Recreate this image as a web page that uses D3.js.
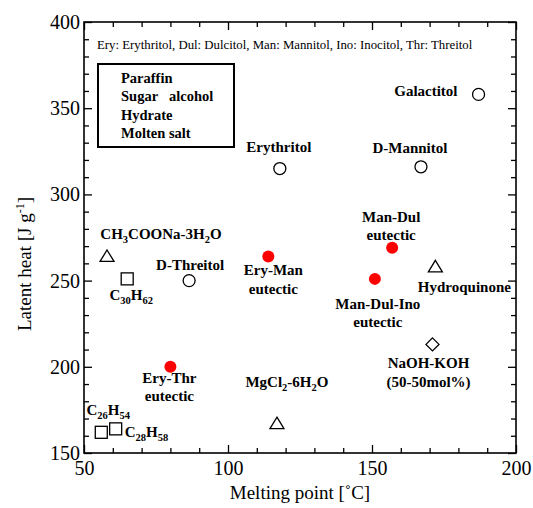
<!DOCTYPE html>
<html>
<head>
<meta charset="utf-8">
<script src="https://cdn.jsdelivr.net/npm/d3@7"></script>
<style>
  html, body { margin: 0; padding: 0; background: #fff; }
  svg { display: block; font-family: "Liberation Serif", "Times New Roman", serif; }
</style>
</head>
<body>
<svg id="chart" width="533" height="508"></svg>
<script>
// ---- data ----
const names = ["Galactitol", "Erythritol", "D-Mannitol", "D-Threitol", "Ery-Man eutectic",
  "Man-Dul eutectic", "Man-Dul-Ino eutectic", "Ery-Thr eutectic", "Hydroquinone",
  "NaOH-KOH (50-50mol%)", "MgCl2-6H2O", "CH3COONa-3H2O", "C30H62", "C26H54", "C28H58"];
const meltingPoints = [187, 118, 167, 86.5, 114, 157, 151, 80, 172, 171, 117, 58, 65, 56, 61];
const latentHeats  = [358, 315, 316, 250, 264, 269, 251, 200, 258, 213, 167, 264, 251, 162, 164];
const kinds = ["sugar", "sugar", "sugar", "sugar", "eutectic", "eutectic", "eutectic", "eutectic",
  "hydrate", "salt", "hydrate", "hydrate", "paraffin", "paraffin", "paraffin"];
const labelLines = [
  ["Galactitol"], ["Erythritol"], ["D-Mannitol"], ["D-Threitol"], ["Ery-Man", "eutectic"],
  ["Man-Dul", "eutectic"], ["Man-Dul-Ino", "eutectic"], ["Ery-Thr", "eutectic"], ["Hydroquinone"],
  ["NaOH-KOH", "(50-50mol%)"], ["MgCl_2-6H_2O"], ["CH_3COONa-3H_2O"], ["C_30H_62"], ["C_26H_54"], ["C_28H_58"]];
const legendItems = ["Paraffin", "Sugar\u00a0\u00a0\u00a0alcohol", "Hydrate", "Molten salt"];
const xTicks = [50, 100, 150, 200];
const yTicks = [150, 200, 250, 300, 350, 400];
const note = "Ery: Erythritol, Dul: Dulcitol, Man: Mannitol, Ino: Inocitol, Thr: Threitol";
const xTitle = "Melting point [\u02daC]";

// ---- layout (label offsets in px from marker) ----
const labelLayout = [
  {dx: -21, dy: -3, a: "end"}, {dx: -1, dy: -22, a: "middle"}, {dx: -11, dy: -19, a: "middle"},
  {dx: 1, dy: -16, a: "middle"}, {dx: 5, dy: 14, a: "middle"}, {dx: -1, dy: -31, a: "middle"},
  {dx: 3, dy: 25, a: "middle"}, {dx: -1, dy: 11, a: "middle"}, {dx: 29, dy: 20, a: "middle"},
  {dx: -4, dy: 19, a: "middle"}, {dx: 10, dy: -42, a: "middle"}, {dx: 54, dy: -22, a: "middle"},
  {dx: 4, dy: 16, a: "middle"}, {dx: 7, dy: -22, a: "middle"}, {dx: 9, dy: 3, a: "start"}];

const L = 84, R = 516, T = 22, B = 453;
const svg = d3.select("#chart");
const x = d3.scaleLinear().domain([50, 200]).range([L, R]);
const y = d3.scaleLinear().domain([150, 400]).range([B, T]);

const minorX = d3.range(50, 201, 10).filter(v => v % 50 !== 0);
const minorY = d3.range(150, 401, 10).filter(v => v % 50 !== 0);

function styleAxis(g) {
  g.select(".domain").remove();
  g.selectAll("line").attr("stroke", "#000").attr("stroke-width", 1.3);
  g.selectAll("text").attr("fill", "#000").style("font-size", "20px")
    .style("font-family", '"Liberation Serif", "Times New Roman", serif');
}
// bottom
svg.append("g").attr("transform", `translate(0,${B})`)
  .call(d3.axisBottom(x).tickValues(xTicks).tickSizeInner(-8).tickSizeOuter(0).tickPadding(8).tickFormat(d3.format("d")))
  .call(styleAxis);
svg.append("g").attr("transform", `translate(0,${B})`)
  .call(d3.axisBottom(x).tickValues(minorX).tickSizeInner(-5).tickSizeOuter(0).tickFormat(() => null))
  .call(styleAxis);
// top
svg.append("g").attr("transform", `translate(0,${T})`)
  .call(d3.axisTop(x).tickValues(xTicks).tickSizeInner(-8).tickSizeOuter(0).tickFormat(() => null))
  .call(styleAxis);
svg.append("g").attr("transform", `translate(0,${T})`)
  .call(d3.axisTop(x).tickValues(minorX).tickSizeInner(-5).tickSizeOuter(0).tickFormat(() => null))
  .call(styleAxis);
// left
svg.append("g").attr("transform", `translate(${L},0)`)
  .call(d3.axisLeft(y).tickValues(yTicks).tickSizeInner(-8).tickSizeOuter(0).tickPadding(4).tickFormat(d3.format("d")))
  .call(styleAxis);
svg.append("g").attr("transform", `translate(${L},0)`)
  .call(d3.axisLeft(y).tickValues(minorY).tickSizeInner(-5).tickSizeOuter(0).tickFormat(() => null))
  .call(styleAxis);
// right
svg.append("g").attr("transform", `translate(${R},0)`)
  .call(d3.axisRight(y).tickValues(yTicks).tickSizeInner(-8).tickSizeOuter(0).tickFormat(() => null))
  .call(styleAxis);
svg.append("g").attr("transform", `translate(${R},0)`)
  .call(d3.axisRight(y).tickValues(minorY).tickSizeInner(-5).tickSizeOuter(0).tickFormat(() => null))
  .call(styleAxis);
// drop empty tick texts
svg.selectAll(".tick text").filter(function () { return !this.textContent; }).remove();

// frame
svg.append("rect").attr("x", L).attr("y", T).attr("width", R - L).attr("height", B - T)
  .attr("fill", "none").attr("stroke", "#000").attr("stroke-width", 1.6);

// axis titles
svg.append("text").attr("x", (L + R) / 2).attr("y", 499).attr("text-anchor", "middle")
  .style("font-size", "19px").text(xTitle);
const yt = svg.append("text").attr("transform", "translate(31,264) rotate(-90)")
  .attr("text-anchor", "middle").style("font-size", "19px");
yt.append("tspan").text("Latent heat [J g");
yt.append("tspan").attr("dy", -7).style("font-size", "12px").text("-1");
yt.append("tspan").attr("dy", 7).text("]");

// note
svg.append("text").attr("x", 97).attr("y", 48.5).style("font-size", "12.8px").text(note);

// legend box (text only)
svg.append("rect").attr("x", 98).attr("y", 64).attr("width", 136).attr("height", 83)
  .attr("fill", "none").attr("stroke", "#000").attr("stroke-width", 2);
svg.append("g").selectAll("text").data(legendItems).join("text")
  .attr("x", 121).attr("y", (d, i) => 83 + i * 18.3)
  .style("font-size", "14.5px").style("font-weight", "bold").text(d => d);

// markers
const pts = names.map((n, i) => ({n, mx: meltingPoints[i], lh: latentHeats[i], k: kinds[i], lines: labelLines[i], lay: labelLayout[i]}));
const mk = svg.append("g");
pts.forEach(p => {
  const cx = x(p.mx), cy = y(p.lh);
  if (p.k === "sugar") {
    mk.append("circle").attr("cx", cx).attr("cy", cy).attr("r", 6)
      .attr("fill", "#fff").attr("stroke", "#000").attr("stroke-width", 1.3);
  } else if (p.k === "eutectic") {
    mk.append("circle").attr("cx", cx).attr("cy", cy).attr("r", 6).attr("fill", "#ff0000");
  } else if (p.k === "paraffin") {
    mk.append("rect").attr("x", cx - 6).attr("y", cy - 6).attr("width", 12).attr("height", 12)
      .attr("fill", "#fff").attr("stroke", "#000").attr("stroke-width", 1.3);
  } else if (p.k === "hydrate") {
    mk.append("path").attr("d", `M${cx},${cy - 6.5}L${cx + 7},${cy + 5}L${cx - 7},${cy + 5}Z`)
      .attr("fill", "#fff").attr("stroke", "#000").attr("stroke-width", 1.3);
  } else {
    mk.append("path").attr("d", `M${cx},${cy - 6.5}L${cx + 6.5},${cy}L${cx},${cy + 6.5}L${cx - 6.5},${cy}Z`)
      .attr("fill", "#fff").attr("stroke", "#000").attr("stroke-width", 1.3);
  }
});

// labels
const lg = svg.append("g").style("font-size", "15px").style("font-weight", "bold");
pts.forEach(p => {
  const cx = x(p.mx), cy = y(p.lh);
  p.lines.forEach((line, li) => {
    const t = lg.append("text").attr("x", cx + p.lay.dx).attr("y", cy + p.lay.dy + 5 + li * 18.5)
      .attr("text-anchor", p.lay.a);
    const parts = line.split(/_(\d+)/);
    let shift = 0;
    parts.forEach((part, pi) => {
      if (part === "") return;
      if (pi % 2 === 1) {
        t.append("tspan").attr("dy", 4 - shift).style("font-size", "10.5px").text(part);
        shift = 4;
      } else {
        t.append("tspan").attr("dy", -shift).text(part);
        shift = 0;
      }
    });
  });
});
</script>
</body>
</html>
